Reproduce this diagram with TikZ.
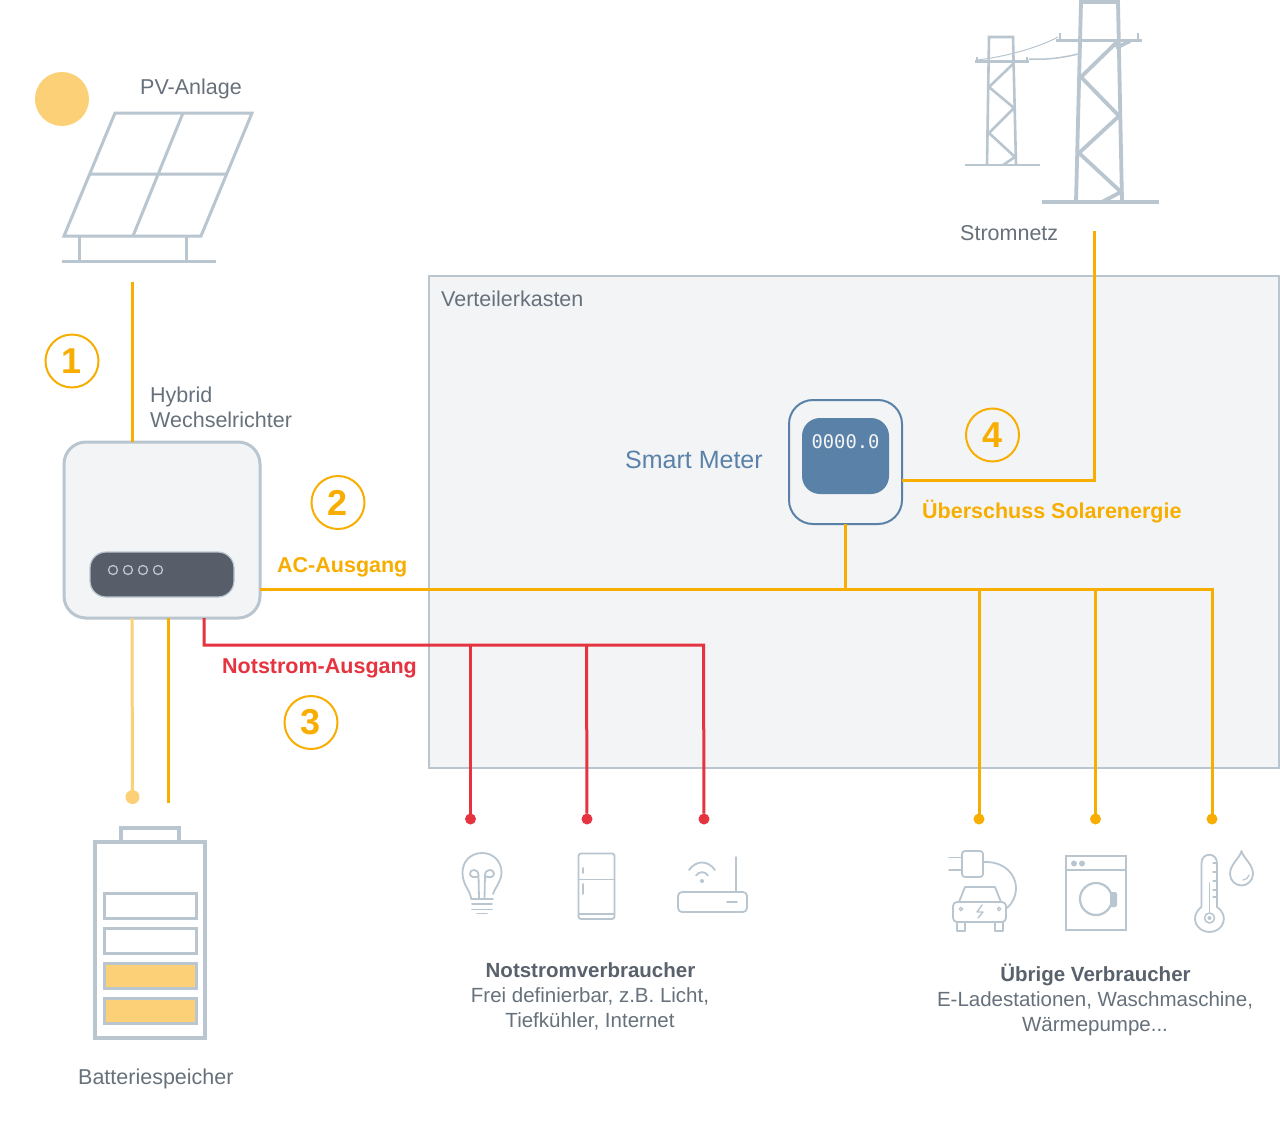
\documentclass[tikz,border=0pt]{standalone}
\usepackage{fontspec}
\setmainfont{Liberation Sans}
\newfontfamily\metermono{DejaVu Sans Mono}
\usetikzlibrary{calc}
\definecolor{gridc}{HTML}{B9C6D0}
\definecolor{panelc}{HTML}{F3F4F6}
\definecolor{orangec}{HTML}{F8AE00}
\definecolor{paleo}{HTML}{FCD077}
\definecolor{redc}{HTML}{E5333F}
\definecolor{textc}{HTML}{67717B}
\definecolor{darkt}{HTML}{59626C}
\definecolor{bluec}{HTML}{5A82A8}
\definecolor{dispc}{HTML}{575E69}
\newcommand\fsz[1]{\fontsize{#1}{#1}\selectfont}
\tikzset{
  outline/.style={draw=gridc,line width=3pt,line join=miter},
  thin icon/.style={draw=gridc,line width=1.8pt,line cap=round,line join=round},
  wire/.style={draw=orangec,line width=3pt},
  redwire/.style={draw=redc,line width=3pt},
  label/.style={anchor=base west,inner sep=0pt,text=textc,font=\fsz{21.5}},
  boldo/.style={anchor=base west,inner sep=0pt,text=orangec,font=\fsz{21.5}\bfseries},
  capline/.style={anchor=base,inner sep=0pt,text=textc,font=\fsz{20.5}},
  caphead/.style={anchor=base,inner sep=0pt,text=darkt,font=\fsz{20.5}\bfseries},
  numc/.style={circle,draw=orangec,line width=2pt,minimum size=53pt,inner sep=0pt,outer sep=0pt,text=orangec,font=\fsz{36}\bfseries},
  dotr/.style={circle,fill=redc,minimum size=11pt,inner sep=0pt,outer sep=0pt},
  doto/.style={circle,fill=orangec,minimum size=11pt,inner sep=0pt,outer sep=0pt},
}
\begin{document}
\begin{tikzpicture}[x=1pt,y=-1pt]
\useasboundingbox (0,0) rectangle (1280,1132);
\fill[white] (0,0) rectangle (1280,1132);
% distribution box
\node[draw=gridc,fill=panelc,line width=2.5pt,minimum width=850pt,minimum height=492pt,inner sep=0pt,outer sep=0pt] (box) at (854,522) {};
\node[label] (boxl) at (441,306) {Verteilerkasten};
% sun
\node[circle,fill=paleo,minimum size=54pt,inner sep=0pt] (sun) at (62,99) {};
% PV panel
\draw[outline] (115,113) -- (252,113) -- (201,236) -- (64,236) -- cycle;
\draw[outline] (183,113) -- (133,236) (90,174) -- (226,174);
\draw[outline] (79,236) -- (79,261) (186,236) -- (186,261) (62,261) -- (216,261);
\node[label] (pvl) at (140,94) {PV-Anlage};
% towers
\draw[draw=gridc,line width=3.8pt,line join=miter]
  (1076,202) -- (1081,2) -- (1118,2) -- (1122,202)
  (1118,41) -- (1081,77) -- (1119,116) -- (1079,153) -- (1121,192) -- (1102,202)
  (1130,41) -- (1116,48);
\draw[draw=gridc,line width=3.4pt] (1056,40.5) -- (1142,40.5) (1042,202) -- (1159,202);
\draw[draw=gridc,line width=2pt] (1060,33) -- (1060,40) (1138,33) -- (1138,40);
\draw[draw=gridc,line width=2.6pt,line join=miter]
  (987,165) -- (989,37) -- (1013,37) -- (1016,165)
  (1013,64) -- (989,87) -- (1014,108) -- (989,133) -- (1015,157) -- (1003,165);
\draw[draw=gridc,line width=2.4pt] (975,61.5) -- (1029,61.5) (965,165) -- (1040,165);
\draw[draw=gridc,line width=1.6pt] (977,57) -- (977,61) (1027,57) -- (1027,61);
\draw[draw=gridc,line width=1pt] (977,60) .. controls (1005,57) and (1040,47) .. (1058,37);
\draw[draw=gridc,line width=1.5pt] (1029,59) .. controls (1045,60) and (1062,58) .. (1078,54);
\node[label] (netl) at (960,240) {Stromnetz};
% inverter
\node[draw=gridc,fill=panelc,line width=3pt,rounded corners=22pt,minimum width=196pt,minimum height=176pt,inner sep=0pt,outer sep=0pt] (inv) at (162,530) {};
\node[draw=gridc,fill=dispc,line width=1.2pt,rounded corners=16pt,minimum width=144pt,minimum height=45pt,inner sep=0pt,outer sep=0pt] (disp) at (162,574.5) {};
\foreach \cx/\nm in {113/a,128/b,143/c,158/d}
  \node[circle,draw=gridc,line width=1.3pt,minimum size=9pt,inner sep=0pt] (led\nm) at (\cx,570) {};
\node[label,text=textc] (invl1) at (150,402) {Hybrid};
\node[label,text=textc] (invl2) at (150,427) {Wechselrichter};
% smart meter
\node[draw=bluec,fill=panelc,line width=2pt,rounded corners=24pt,minimum width=113pt,minimum height=124pt,inner sep=0pt,outer sep=0pt] (meter) at (845.5,462) {};
\node[fill=bluec,rounded corners=18pt,minimum width=87pt,minimum height=76pt,inner sep=0pt,outer sep=0pt] (mscreen) at (845.5,456) {};
\node[anchor=base,inner sep=0pt,text=panelc,font=\metermono\fsz{18.8}] (mtext) at (845.5,448) {0000.0};
\node[label,text=bluec,font=\fsz{25}] (meterl) at (625,468) {Smart Meter};
% free ends and junctions
\coordinate (pvend) at (132,282);
\coordinate (gridend) at (1094,231);
\coordinate (gridcorner) at (1094,480);
\coordinate (meterout) at (902,480);
\coordinate (acout) at (260,589);
\coordinate (acmeter) at (845.5,589);
\coordinate (ac1) at (979,589);
\coordinate (ac2) at (1095.5,589);
\coordinate (ac3) at (1212,589);
\coordinate (batpale) at (132,618);
\coordinate (bator) at (168,618);
\coordinate (batorend) at (168,803);
\coordinate (redout) at (204,618);
\coordinate (redcorner) at (204,645);
\coordinate (r1) at (470.5,645);
\coordinate (r2) at (586.5,645);
\coordinate (r3) at (703.5,645);
\node[dotr] (dr1) at (470.5,819) {};
\node[dotr] (dr2) at (587,819) {};
\node[dotr] (dr3) at (704,819) {};
\node[doto] (do1) at (979,819) {};
\node[doto] (do2) at (1095.5,819) {};
\node[doto] (do3) at (1212,819) {};
\node[circle,fill=paleo,minimum size=14pt,inner sep=0pt,outer sep=0pt] (batdot) at (132.5,797) {};
% connectors
\draw[wire] (pvend) -- (pvend |- inv.north);
\draw[wire,line join=miter] (gridend) -- (gridcorner) -- (meterout);
\draw[wire] (meter.south) -- (acmeter);
\draw[wire,line join=miter] (acout) -- (ac3) -- (do3);
\draw[wire] (ac1) -- (do1);
\draw[wire] (ac2) -- (do2);
\draw[draw=paleo,line width=3pt] (batpale) -- (batdot);
\draw[wire] (bator) -- (batorend);
\draw[redwire,line join=miter] (redout) -- (redcorner) -- (r3) -- (dr3);
\draw[redwire] (r1) -- (dr1);
\draw[redwire] (r2) -- (dr2);
% numbers
\node[numc] (n1) at (72,361) {1};
\node[numc] (n2) at (338,502.5) {2};
\node[numc] (n3) at (311,722.5) {3};
\node[numc] (n4) at (992.5,435) {4};
\node[boldo] (acl) at (277,572) {AC-Ausgang};
\node[boldo,text=redc] (redl) at (222,673) {Notstrom-Ausgang};
\node[boldo] (exl) at (922,518) {Überschuss Solarenergie};
% battery
\draw[draw=gridc,line width=3.6pt,line join=miter] (121,842) -- (121,828) -- (179,828) -- (179,842);
\node[draw=gridc,line width=4pt,minimum width=110pt,minimum height=196pt,inner sep=0pt,outer sep=0pt] (bat) at (150,940) {};
\node[draw=gridc,line width=3pt,minimum width=92pt,minimum height=25pt,inner sep=0pt] (c1) at (150,905.5) {};
\node[draw=gridc,line width=3pt,minimum width=92pt,minimum height=25pt,inner sep=0pt] (c2) at (150,940.5) {};
\node[draw=gridc,fill=paleo,line width=3pt,minimum width=92pt,minimum height=25pt,inner sep=0pt] (c3) at (150,975.5) {};
\node[draw=gridc,fill=paleo,line width=3pt,minimum width=92pt,minimum height=25pt,inner sep=0pt] (c4) at (150,1010.5) {};
\node[label] (batl) at (78,1084) {Batteriespeicher};
% bulb
\draw[thin icon] (471,898) .. controls (470,890) and (462.5,885) .. (462.5,872.5) .. controls (462.5,861) and (471,853) .. (482,853) .. controls (493,853) and (501.5,861) .. (501.5,872.5) .. controls (501.5,881) and (496,886) .. (493,894);
\draw[thin icon] (471,899) -- (493,899) (472,904) -- (492,904) (472,909.5) -- (492,909.5) (477,913.5) -- (487,913.5);
\draw[thin icon] (479,899) -- (478.5,875) .. controls (478,868) and (470,869) .. (470,873.5) .. controls (470,877) and (474,878) .. (478,876.5);
\draw[thin icon] (484.5,899) -- (485,875) .. controls (485.5,868) and (494,869) .. (494,873.5) .. controls (494,877) and (490,878) .. (485.5,876.5);
% fridge
\draw[thin icon,rounded corners=2.5pt] (578.5,853.5) rectangle (614.5,919);
\draw[thin icon] (578.5,879.5) -- (614.5,879.5) (578.5,914) -- (614.5,914) (583,868) -- (583,873) (583,884) -- (583,894);
% router
\draw[thin icon,rounded corners=4pt] (678,892) rectangle (747,912);
\draw[thin icon] (736,857) -- (736,892) (727,902) -- (737,902);
\fill[gridc] (702,881) circle (2pt);
\draw[thin icon] (696,875.5) .. controls (699,871) and (705,871) .. (708,875.5);
\draw[thin icon] (689,870) .. controls (696,860) and (708,860) .. (715,870);
% EV
\draw[thin icon,rounded corners=3pt] (983,851) -- (962,851) -- (962,877) -- (983,877) -- cycle;
\draw[thin icon] (949,857.5) -- (962,857.5) (949,870) -- (962,870);
\draw[thin icon] (983,862) .. controls (1005,861) and (1016,875) .. (1016,888) .. controls (1016,896) and (1012,904) .. (1007,908);
\draw[thin icon,rounded corners=4pt] (953,922) -- (953,902) -- (1006,902) -- (1006,922) -- cycle;
\draw[thin icon] (959,902) -- (965,887) -- (995,887) -- (1001,902);
\draw[thin icon] (957,922) -- (957,931) -- (965,931) -- (965,922) (995,922) -- (995,931) -- (1003,931) -- (1003,922);
\draw[thin icon,line width=1.3pt] (961,909) circle (1.8pt) (999,909) circle (1.8pt);
\draw[thin icon,line width=1.4pt] (982,905) -- (977,912) -- (983,912) -- (978,918);
% washer
\draw[draw=gridc,line width=2.4pt] (1066,856) rectangle (1126,930) (1066,870) -- (1126,870);
\fill[gridc] (1074,863.5) circle (3pt) (1082,863.5) circle (3pt);
\draw[draw=gridc,line width=2.2pt] (1096,899) circle (16pt);
\fill[gridc,rounded corners=2pt] (1110,892) rectangle (1117,907);
% thermometer
\draw[thin icon] (1201.5,907) -- (1201.5,863) .. controls (1201.5,852) and (1217,852) .. (1217,863) -- (1217,907) .. controls (1230,916) and (1223,932) .. (1209.5,932) .. controls (1196,932) and (1189,916) .. (1201.5,907) -- cycle;
\draw[thin icon,line width=1.5pt] (1209.5,918) circle (5pt);
\fill[gridc] (1209.5,918) circle (2pt);
\draw[thin icon,line width=1.5pt] (1209.5,883) -- (1209.5,912);
\draw[thin icon,line width=1.2pt] (1213,863) -- (1217,863) (1213,872) -- (1217,872) (1213,881) -- (1217,881) (1213,890) -- (1217,890) (1213,897) -- (1217,897);
% drop
\draw[thin icon] (1241.5,851) .. controls (1243,858) and (1253,864) .. (1253,874) .. controls (1253,881) and (1247,885.5) .. (1241.5,885.5) .. controls (1236,885.5) and (1230,881) .. (1230,874) .. controls (1230,864) and (1240,858) .. (1241.5,851) -- cycle;
\draw[thin icon,line width=1.2pt] (1243,880) .. controls (1246,880) and (1248,878) .. (1249,875);
% captions
\node[caphead] (nvh) at (590.5,977) {Notstromverbraucher};
\node[capline] (nv1) at (590,1002) {Frei definierbar, z.B. Licht,};
\node[capline] (nv2) at (590,1027) {Tiefkühler, Internet};
\node[caphead] (uvh) at (1095.5,981) {Übrige Verbraucher};
\node[capline] (uv1) at (1095,1006) {E-Ladestationen, Waschmaschine,};
\node[capline] (uv2) at (1095,1031) {Wärmepumpe...};
\end{tikzpicture}
\end{document}
